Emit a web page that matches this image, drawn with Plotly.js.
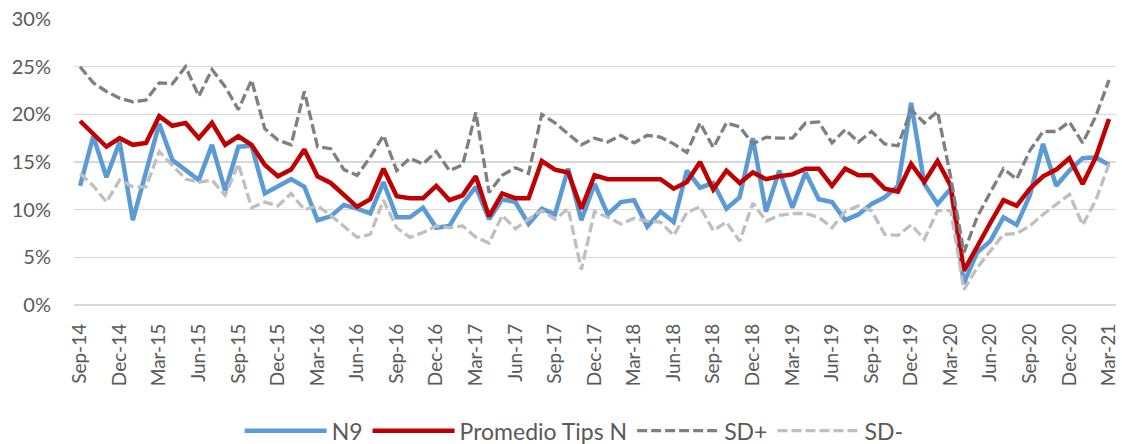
<!DOCTYPE html>
<html>
<head>
<meta charset="utf-8">
<script src="https://cdn.plot.ly/plotly-3.0.1.min.js"></script>
<style>
html,body{margin:0;padding:0;background:#fff;}
#chart{width:1122px;height:444px;}
</style>
</head>
<body>
<div id="chart"></div>
<script>
const months = ['Sep-14','Oct-14','Nov-14','Dec-14','Jan-15','Feb-15','Mar-15','Apr-15','May-15','Jun-15','Jul-15','Aug-15',
'Sep-15','Oct-15','Nov-15','Dec-15','Jan-16','Feb-16','Mar-16','Apr-16','May-16','Jun-16','Jul-16','Aug-16',
'Sep-16','Oct-16','Nov-16','Dec-16','Jan-17','Feb-17','Mar-17','Apr-17','May-17','Jun-17','Jul-17','Aug-17',
'Sep-17','Oct-17','Nov-17','Dec-17','Jan-18','Feb-18','Mar-18','Apr-18','May-18','Jun-18','Jul-18','Aug-18',
'Sep-18','Oct-18','Nov-18','Dec-18','Jan-19','Feb-19','Mar-19','Apr-19','May-19','Jun-19','Jul-19','Aug-19',
'Sep-19','Oct-19','Nov-19','Dec-19','Jan-20','Feb-20','Mar-20','Apr-20','May-20','Jun-20','Jul-20','Aug-20',
'Sep-20','Oct-20','Nov-20','Dec-20','Jan-21','Feb-21','Mar-21'];

const tickLabels = ['Sep-14','Dec-14','Mar-15','Jun-15','Sep-15','Dec-15','Mar-16','Jun-16','Sep-16','Dec-16',
'Mar-17','Jun-17','Sep-17','Dec-17','Mar-18','Jun-18','Sep-18','Dec-18','Mar-19','Jun-19','Sep-19','Dec-19',
'Mar-20','Jun-20','Sep-20','Dec-20','Mar-21'];

const n9 = [12.5,17.7,13.4,17.1,8.9,13.9,19.0,15.2,14.2,13.1,16.8,12.0,
16.6,16.7,11.7,12.4,13.2,12.4,8.9,9.3,10.5,10.1,9.6,12.9,
9.2,9.2,10.2,8.1,8.3,10.6,12.4,9.0,11.1,10.8,8.5,10.1,
9.5,14.3,8.9,12.7,9.5,10.8,11.0,8.2,9.8,8.7,14.1,12.3,
12.8,10.1,11.3,17.5,9.8,14.1,10.2,13.9,11.1,10.8,8.9,9.5,
10.6,11.3,12.5,21.2,12.7,10.6,12.2,2.3,5.5,6.7,9.2,8.4,
11.5,16.9,12.5,14.1,15.4,15.5,14.7];

const promedio = [19.3,18.0,16.6,17.5,16.8,17.0,19.8,18.8,19.1,17.5,19.1,16.8,
17.7,16.8,14.7,13.5,14.2,16.3,13.5,12.8,11.5,10.3,11.1,14.3,
11.4,11.2,11.2,12.5,11.0,11.5,13.5,9.3,11.7,11.2,11.2,15.1,
14.2,13.9,10.1,13.6,13.2,13.2,13.1,13.2,13.2,12.2,12.9,15.0,
12.1,14.1,12.8,13.9,13.2,13.5,13.7,14.3,14.3,12.5,14.3,13.6,
13.6,12.2,11.9,14.8,12.9,15.1,12.5,3.6,6.2,8.6,11.0,10.4,
12.2,13.5,14.2,15.4,12.7,15.5,19.5];

const sdPlus = [25.0,23.3,22.4,21.7,21.3,21.5,23.3,23.2,25.0,21.9,24.7,22.9,
20.5,23.6,18.5,17.3,16.8,22.4,16.6,16.4,14.2,13.6,15.5,17.8,
14.1,15.4,14.8,16.1,14.1,14.7,20.2,11.8,13.6,14.4,13.8,20.0,
19.1,18.0,16.8,17.5,17.1,17.8,17.0,17.8,17.6,16.9,16.0,19.1,
16.5,19.1,18.7,16.9,17.6,17.5,17.5,19.1,19.2,17.0,18.4,17.1,
18.2,16.9,16.7,20.5,19.1,20.3,13.4,5.5,9.2,11.8,14.3,13.2,
16.2,18.2,18.2,19.2,17.0,19.8,23.6];

const sdMinus = [13.8,12.5,10.8,13.1,12.4,12.4,16.1,14.7,13.2,12.9,13.1,11.5,
14.8,10.2,10.8,10.4,11.7,10.0,10.4,9.4,8.3,7.1,7.4,11.0,
8.1,7.1,7.6,8.3,8.1,8.3,7.1,6.5,9.4,8.0,9.0,9.9,
9.0,10.1,3.7,9.8,9.2,8.5,9.1,8.8,8.7,7.3,9.7,10.3,
7.8,8.7,6.7,10.7,8.8,9.4,9.6,9.6,9.2,8.1,9.8,10.4,
9.9,7.4,7.3,8.4,6.9,9.9,9.9,1.6,3.9,5.7,7.4,7.5,
8.3,9.5,10.6,11.6,8.4,11.0,14.8];

const seriesNames = ['N9','Promedio Tips N','SD+','SD-'];

const txt = '#595959';
const fontFam = 'Lato, "Open Sans", sans-serif';

const traces = [
  {x: months, y: n9, name: seriesNames[0], type: 'scatter', mode: 'lines',
   line: {color: '#5B9BD5', width: 4.5}},
  {x: months, y: promedio, name: seriesNames[1], type: 'scatter', mode: 'lines',
   line: {color: '#C00000', width: 4.5}},
  {x: months, y: sdPlus, name: seriesNames[2], type: 'scatter', mode: 'lines',
   line: {color: '#7F7F7F', width: 3.3, dash: '10px,4px'}},
  {x: months, y: sdMinus, name: seriesNames[3], type: 'scatter', mode: 'lines',
   line: {color: '#BFBFBF', width: 3.3, dash: '10px,4px'}}
];

const layout = {
  width: 1122, height: 444,
  margin: {l: 74, r: 6, t: 19, b: 139},
  paper_bgcolor: '#fff', plot_bgcolor: '#fff',
  font: {family: fontFam, size: 19, color: txt},
  showlegend: true,
  legend: {orientation: 'h', xref: 'paper', yref: 'container', x: 0.48, xanchor: 'center', y: 0.03, yanchor: 'middle',
           font: {family: fontFam, size: 23, color: txt}, itemwidth: 82, traceorder: 'normal'},
  xaxis: {type: 'category', range: [-0.46, 78.53], tickmode: 'array', tickvals: tickLabels, ticktext: tickLabels,
          tickangle: -90, showgrid: false, zeroline: false, showline: false, ticks: '', automargin: false,
          ticklabelstandoff: 14, tickfont: {family: fontFam, size: 19, color: txt}, fixedrange: true},
  yaxis: {range: [0, 30], dtick: 5, tick0: 0, ticksuffix: '%', showgrid: true, gridcolor: '#D9D9D9', gridwidth: 1.3,
          zeroline: true, zerolinecolor: '#D9D9D9', zerolinewidth: 1.3, showline: false, ticks: '', automargin: false,
          ticklabelstandoff: 22, tickfont: {family: fontFam, size: 20, color: txt}, fixedrange: true}
};

Plotly.newPlot('chart', traces, layout, {displayModeBar: false, staticPlot: true});
</script>
</body>
</html>
